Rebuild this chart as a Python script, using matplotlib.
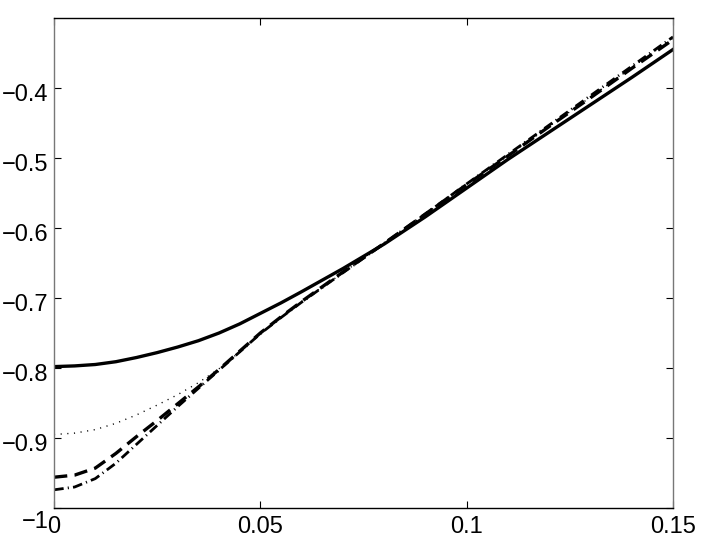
import numpy as np
import matplotlib
matplotlib.use("Agg")
import matplotlib.pyplot as plt
import matplotlib.transforms as mtransforms

# x positions (finer steps where the curves bend)
x = [0.0, 0.005, 0.01, 0.015, 0.02, 0.025, 0.03, 0.035, 0.04, 0.045, 0.05, 0.055,
     0.06, 0.07, 0.08, 0.09, 0.10, 0.11, 0.12, 0.13, 0.14, 0.15]

solid = [-0.798, -0.797, -0.795, -0.791, -0.785, -0.778, -0.770, -0.761, -0.750, -0.737, -0.722, -0.707,
         -0.691, -0.658, -0.623, -0.584, -0.543, -0.502, -0.463, -0.424, -0.385, -0.345]
dotted = [-0.895, -0.893, -0.888, -0.879, -0.867, -0.853, -0.838, -0.821, -0.801, -0.777, -0.751, -0.727,
          -0.705, -0.664, -0.622, -0.580, -0.538, -0.497, -0.455, -0.413, -0.371, -0.329]
dashed = [-0.956, -0.953, -0.943, -0.922, -0.898, -0.875, -0.851, -0.827, -0.802, -0.776, -0.750, -0.727,
          -0.705, -0.663, -0.622, -0.580, -0.538, -0.497, -0.455, -0.414, -0.372, -0.331]
dashdot = [-0.974, -0.970, -0.958, -0.936, -0.909, -0.882, -0.855, -0.829, -0.803, -0.777, -0.751, -0.728,
           -0.706, -0.664, -0.622, -0.580, -0.537, -0.495, -0.453, -0.411, -0.369, -0.327]

xticks = [0, 0.05, 0.1, 0.15]
xticklabels = ["0", "0.05", "0.1", "0.15"]
yticks = [-1, -0.9, -0.8, -0.7, -0.6, -0.5, -0.4]
yticklabels = ["\u22121", "\u22120.9", "\u22120.8", "\u22120.7", "\u22120.6", "\u22120.5", "\u22120.4"]

plt.rcParams['font.family'] = ['Liberation Sans', 'DejaVu Sans']

fig = plt.figure(figsize=(7.03, 5.42), dpi=100)
ax = fig.add_axes([0.0768, 0.0627, 0.8805, 0.9041])

ax.plot(x, solid, color='black', linestyle='-', linewidth=2.4)
ax.plot(x, dotted, color='black', linestyle=(0, (0.8, 4.0)), linewidth=1.0)
ax.plot(x, dashed, color='black', linestyle=(0, (4.0, 2.2)), linewidth=2.4)
ax.plot(x, dashdot, color='black', linestyle=(0, (3.5, 1.5, 0.4, 1.5)), linewidth=2.0)

ax.set_xlim(0, 0.15)
ax.set_ylim(-1, -0.3)
ax.set_xticks(xticks)
ax.set_xticklabels(xticklabels)
ax.set_yticks(yticks)
ax.set_yticklabels(yticklabels)

ax.tick_params(direction='in', length=5, width=0.8, top=True, right=True,
               labelsize=17, colors='black')
ax.tick_params(axis='x', pad=6)
ax.tick_params(axis='y', pad=4)

for side in ['top', 'bottom']:
    ax.spines[side].set_color('black')
for side in ['left', 'right']:
    ax.spines[side].set_color('#777777')
for sp in ax.spines.values():
    sp.set_linewidth(1.0)

# MATLAB pushes the lowest y label down a bit
lbls = ax.get_yticklabels()
lbls[0].set_transform(lbls[0].get_transform() +
                      mtransforms.ScaledTranslation(0, -8.6 / 72, fig.dpi_scale_trans))
for lbl in lbls[1:]:
    lbl.set_transform(lbl.get_transform() +
                      mtransforms.ScaledTranslation(0, -3.5 / 72, fig.dpi_scale_trans))

fig.savefig("out.png", dpi=100)
